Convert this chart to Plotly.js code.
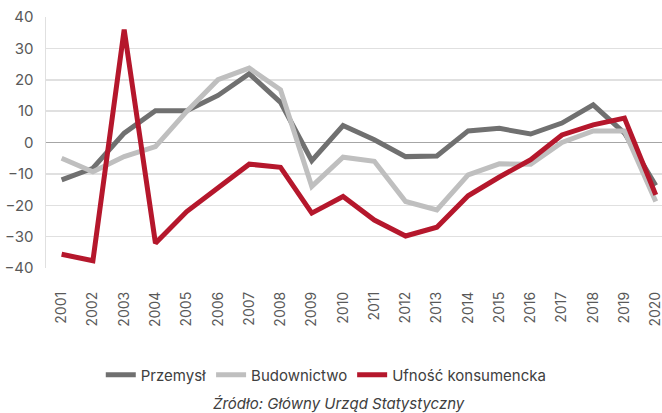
<!DOCTYPE html>
<html>
<head>
<meta charset="utf-8">
<script src="https://cdn.plot.ly/plotly-3.0.1.min.js"></script>
<style>html,body{margin:0;padding:0;background:#fff;}#chart{width:662px;height:413px;}</style>
</head>
<body>
<div id="chart"></div>
<script>
const years = ['2001','2002','2003','2004','2005','2006','2007','2008','2009','2010','2011','2012','2013','2014','2015','2016','2017','2018','2019','2020'];
const przemysl = [-11.9,-8.2,3,10.1,10.1,15,21.9,12.8,-5.8,5.4,0.9,-4.5,-4.3,3.7,4.5,2.7,6.2,12,3,-13.7];
const budownictwo = [-5,-9.3,-4.5,-1.3,9.9,20,23.7,16.8,-14,-4.7,-6,-18.8,-21.5,-10.3,-6.8,-6.9,0,3.7,3.7,-18.8];
const ufnosc = [-35.6,-37.7,36,-32.1,-22,-14.6,-6.9,-7.9,-22.5,-17.2,-24.7,-29.8,-27,-17,-11,-5.5,2.4,5.6,7.8,-16.7];
const seriesNames = ['Przemysł','Budownictwo','Ufność konsumencka'];
const colors = ['#707070','#bfbfbf','#b5172c'];
const yTicks = [-40,-30,-20,-10,0,10,20,30,40];
const source = 'Źródło: Główny Urząd Statystyczny';

const data = [przemysl, budownictwo, ufnosc].map((v,i)=>({
  type:'scatter', mode:'lines', x:years, y:v, name:seriesNames[i],
  line:{color:colors[i], width:5, shape:'linear'}
}));

const layout = {
  width:662, height:413,
  margin:{l:46, r:0, t:17, b:145, autoexpand:false},
  paper_bgcolor:'#fff', plot_bgcolor:'#fff',
  font:{family:'Inter, sans-serif', color:'#595959', size:15},
  showlegend:true,
  legend:{orientation:'h', x:0.455, xanchor:'center', y:-0.426, yanchor:'middle',
    font:{size:15, color:'#404040', family:'Inter, sans-serif'}, itemwidth:30, tracegroupgap:0},
  xaxis:{type:'category', range:[-0.5,19.2], tickangle:-90, showgrid:false,
    showline:false, ticks:'', tickfont:{size:14, color:'#595959'}, ticklabelstandoff:20, fixedrange:true},
  yaxis:{range:[-40,40], tickvals:yTicks, showgrid:true, gridcolor:'#e0e0e0', gridwidth:1.5,
    zeroline:true, zerolinecolor:'#a6a6a6', zerolinewidth:1.5,
    showline:true, linecolor:'#e0e0e0', linewidth:1.5, ticks:'',
    tickfont:{size:15, color:'#595959'}, ticklabelstandoff:8},
  annotations:[{text:source, xref:'paper', yref:'paper', x:0.476, y:-0.538,
    xanchor:'center', yanchor:'middle', showarrow:false,
    font:{size:15, color:'#404040', family:'Inter, sans-serif', style:'italic'}}]
};
Plotly.newPlot('chart', data, layout, {displayModeBar:false, staticPlot:true});
</script>
</body>
</html>
